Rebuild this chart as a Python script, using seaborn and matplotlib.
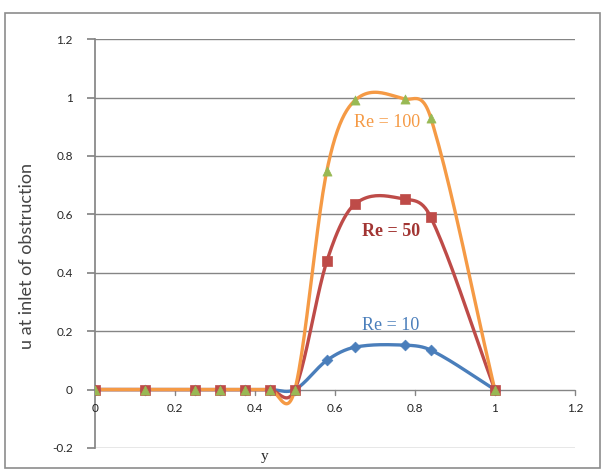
import numpy as np
import pandas as pd
import matplotlib
matplotlib.use("Agg")
import matplotlib.pyplot as plt
import seaborn as sns
from matplotlib.patches import Rectangle

# Velocity profile data at the obstruction inlet
y_pos = [0, 0.125, 0.25, 0.3125, 0.375, 0.4375, 0.5, 0.58, 0.65, 0.775, 0.84, 1.0]
u_re10 = [0, 0, 0, 0, 0, 0, 0, 0.10, 0.145, 0.152, 0.135, 0]
u_re50 = [0, 0, 0, 0, 0, 0, 0, 0.44, 0.635, 0.652, 0.59, 0]
u_re100 = [0, 0, 0, 0, 0, 0, 0, 0.75, 0.99, 0.995, 0.93, 0]

x_ticks = [0, 0.2, 0.4, 0.6, 0.8, 1, 1.2]
x_tick_labels = ["0", "0.2", "0.4", "0.6", "0.8", "1", "1.2"]
y_ticks = [-0.2, 0, 0.2, 0.4, 0.6, 0.8, 1, 1.2]
y_tick_labels = ["-0.2", "0", "0.2", "0.4", "0.6", "0.8", "1", "1.2"]


def smooth(x, y, n=24):
    """Piecewise cubic Hermite curve through the points (smoothed line)."""
    x = np.asarray(x, float)
    y = np.asarray(y, float)
    m = np.zeros_like(y)
    m[1:-1] = (y[2:] - y[:-2]) / (x[2:] - x[:-2])
    m[0] = (y[1] - y[0]) / (x[1] - x[0])
    m[-1] = (y[-1] - y[-2]) / (x[-1] - x[-2])
    xs, ys = [], []
    t = np.linspace(0, 1, n, endpoint=False)
    for i in range(len(x) - 1):
        h = x[i + 1] - x[i]
        h00 = 2 * t ** 3 - 3 * t ** 2 + 1
        h10 = t ** 3 - 2 * t ** 2 + t
        h01 = -2 * t ** 3 + 3 * t ** 2
        h11 = t ** 3 - t ** 2
        xs.append(x[i] + t * h)
        ys.append(h00 * y[i] + h10 * h * m[i] + h01 * y[i + 1] + h11 * h * m[i + 1])
    xs.append([x[-1]])
    ys.append([y[-1]])
    return np.concatenate(xs), np.concatenate(ys)


sns.set_theme(style="white")
plt.rcParams["font.family"] = ["Lato", "DejaVu Sans"]

fig = plt.figure(figsize=(6.05, 4.72), dpi=100)
ax = fig.add_axes([0.157, 0.051, 0.793, 0.866])

# Outer chart border
fig.patches.append(Rectangle((0.008, 0.008), 0.984, 0.965, transform=fig.transFigure,
                             fill=False, edgecolor="#8c8c8c", linewidth=1.2))

series = [
    ("Re = 10", u_re10, "#4A7EBB", "#4A7EBB", "D", 5),
    ("Re = 50", u_re50, "#BE4B48", "#BE4B48", "s", 6),
    ("Re = 100", u_re100, "#F59A45", "#98B954", "^", 6),
]
for name, vals, lc, mc, mk, ms in series:
    sx, sy = smooth(y_pos, vals)
    curve = pd.DataFrame({"y": sx, "u": sy})
    sns.lineplot(data=curve, x="y", y="u", ax=ax, color=lc, linewidth=2.4,
                 sort=False, estimator=None, zorder=3)
    pts = pd.DataFrame({"y": y_pos, "u": vals})
    sns.scatterplot(data=pts, x="y", y="u", ax=ax, color=mc, marker=mk, s=ms ** 2 * 1.2,
                    edgecolor=mc, linewidth=0.5, zorder=4)

ax.set_xlim(0, 1.2)
ax.set_ylim(-0.2, 1.2)
ax.set_yticks(y_ticks)
ax.set_yticklabels(y_tick_labels, fontsize=8.5)
ax.set_xticks([])
for yt in y_ticks:
    ax.axhline(yt, color="#858585", linewidth=1.0, zorder=1)
for xt in x_ticks[1:]:
    ax.plot([xt, xt], [0, -0.02], color="#858585", linewidth=1.0, zorder=1, clip_on=False)
for xt, lab in zip(x_ticks, x_tick_labels):
    ax.text(xt, -0.045, lab, ha="center", va="top", fontsize=8.5, color="#222222")

for s in ["top", "right", "bottom"]:
    ax.spines[s].set_visible(False)
ax.spines["left"].set_color("#858585")
ax.tick_params(axis="y", left=True, length=6, color="#858585", pad=10)

ax.set_xlabel("y", fontsize=11, family="Liberation Serif")
ax.xaxis.set_label_coords(0.354, -0.005)
ax.set_ylabel("u at inlet of obstruction", fontsize=13, color="#444444")
ax.yaxis.set_label_coords(-0.125, 0.47)

ax.text(0.73, 0.915, "Re = 100", color="#F59A45", fontsize=13, family="Liberation Serif",
        ha="center", va="center", zorder=5)
ax.text(0.74, 0.54, "Re = 50", color="#A23533", fontsize=13, family="Liberation Serif",
        fontweight="bold", ha="center", va="center", zorder=5)
ax.text(0.74, 0.22, "Re = 10", color="#4A7EBB", fontsize=13, family="Liberation Serif",
        ha="center", va="center", zorder=5)

fig.savefig("out.png", dpi=100)
